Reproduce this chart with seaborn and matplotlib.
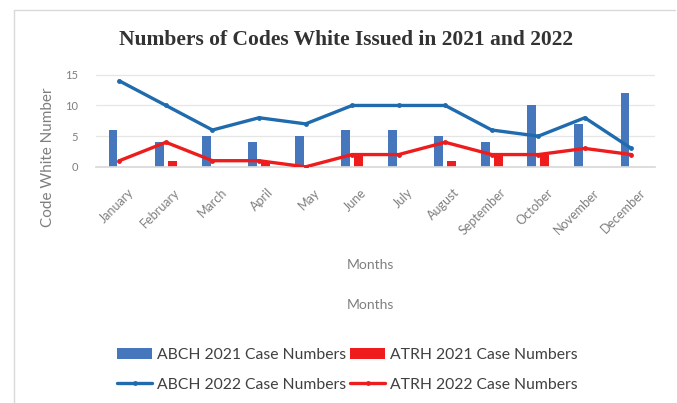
import numpy as np
import pandas as pd
import matplotlib
matplotlib.use("Agg")
import matplotlib.pyplot as plt
import matplotlib.transforms as mtransforms
from matplotlib.lines import Line2D
from matplotlib.patches import Patch
import seaborn as sns

months = ["January", "February", "March", "April", "May", "June", "July",
          "August", "September", "October", "November", "December"]
abch_2021 = [6, 4, 5, 4, 5, 6, 6, 5, 4, 10, 7, 12]
atrh_2021 = [0, 1, 0, 1, 0, 2, 0, 1, 2, 2, 0, 0]
abch_2022 = [14, 10, 6, 8, 7, 10, 10, 10, 6, 5, 8, 3]
atrh_2022 = [1, 4, 1, 1, 0, 2, 2, 4, 2, 2, 3, 2]
y_ticks = [0, 5, 10, 15]

title = "Numbers of Codes White Issued in 2021 and 2022"
y_label = "Code White Number"
x_label = "Months"
labels = ["ABCH 2021 Case Numbers", "ATRH 2021 Case Numbers",
          "ABCH 2022 Case Numbers", "ATRH 2022 Case Numbers"]

BAR_BLUE = "#4677BD"
LINE_BLUE = "#1F6BAE"
RED = "#EE1C1C"
GRAY = "#7F7F7F"

sns.set_theme(style="white")
plt.rcParams["font.family"] = ["Lato", "DejaVu Sans"]

fig = plt.figure(figsize=(6.77, 4.03), dpi=100)
ax = fig.add_axes([0.142, 0.586, 0.825, 0.233])

bars = pd.DataFrame({
    "month": months * 2,
    "value": abch_2021 + atrh_2021,
    "series": [labels[0]] * 12 + [labels[1]] * 12,
})
sns.barplot(data=bars, x="month", y="value", hue="series", order=months,
            palette=[BAR_BLUE, RED], width=0.55, gap=0.3, saturation=1,
            ax=ax, legend=False, zorder=2, linewidth=0)

lines = pd.DataFrame({
    "pos": list(range(12)) * 2,
    "value": abch_2022 + atrh_2022,
    "series": [labels[2]] * 12 + [labels[3]] * 12,
})
sns.lineplot(data=lines, x="pos", y="value", hue="series",
             palette=[LINE_BLUE, RED], linewidth=2.4, marker="o",
             markersize=3.5, markeredgewidth=0, ax=ax, legend=False,
             zorder=3)

ax.set_xlim(-0.5, 11.5)
ax.set_ylim(0, 15.3)
ax.set_yticks(y_ticks)
ax.set_yticklabels([str(t) for t in y_ticks], fontsize=8, color=GRAY)
ax.set_xticks(range(12))
ax.set_xticklabels(months, rotation=45, ha="right", rotation_mode="anchor",
                   fontsize=9, color=GRAY)
ax.tick_params(axis="y", length=0, pad=13)
ax.tick_params(axis="x", length=0, pad=14)
offset = mtransforms.ScaledTranslation(8 / 100, 0, fig.dpi_scale_trans)
for lbl in ax.get_xticklabels():
    lbl.set_transform(lbl.get_transform() + offset)
ax.grid(axis="y", color="#E6E6E6", linewidth=0.9, zorder=0)
ax.set_axisbelow(True)
for s in ["top", "right", "left"]:
    ax.spines[s].set_visible(False)
ax.spines["bottom"].set_color("#D9D9D9")
ax.set_xlabel("")
ax.set_ylabel("")

fig.text(0.071, 0.61, y_label, rotation=90, ha="center", va="center",
         fontsize=11, color=GRAY)
fig.text(0.511, 0.9, title, ha="center", va="center", fontsize=15.5,
         fontweight="bold", family="Liberation Serif", color="#333333")
fig.text(0.547, 0.342, x_label, ha="center", va="center", fontsize=10,
         color=GRAY)
fig.text(0.547, 0.243, x_label, ha="center", va="center", fontsize=10,
         color=GRAY)

handles = [
    Patch(facecolor=BAR_BLUE, edgecolor="none"),
    Line2D([0], [0], color=LINE_BLUE, linewidth=2.4, marker="o",
           markersize=3.5, markeredgewidth=0),
    Patch(facecolor=RED, edgecolor="none"),
    Line2D([0], [0], color=RED, linewidth=2.4, marker="o",
           markersize=3.5, markeredgewidth=0),
]
leg = fig.legend(handles, [labels[0], labels[2], labels[1], labels[3]],
                 ncol=2, loc="center", bbox_to_anchor=(0.513, 0.082),
                 frameon=False, fontsize=11.3, handlelength=2.2,
                 handletextpad=0.3, columnspacing=0.3, labelspacing=1.0)
for t in leg.get_texts():
    t.set_color("#404040")

# light chart border
fig.add_artist(Line2D([0.02, 0.997], [0.975, 0.975], transform=fig.transFigure,
                      color="#D9D9D9", linewidth=1.0))
fig.add_artist(Line2D([0.02, 0.02], [0.975, 0.0], transform=fig.transFigure,
                      color="#D9D9D9", linewidth=1.0))

fig.savefig("out.png", dpi=100)
